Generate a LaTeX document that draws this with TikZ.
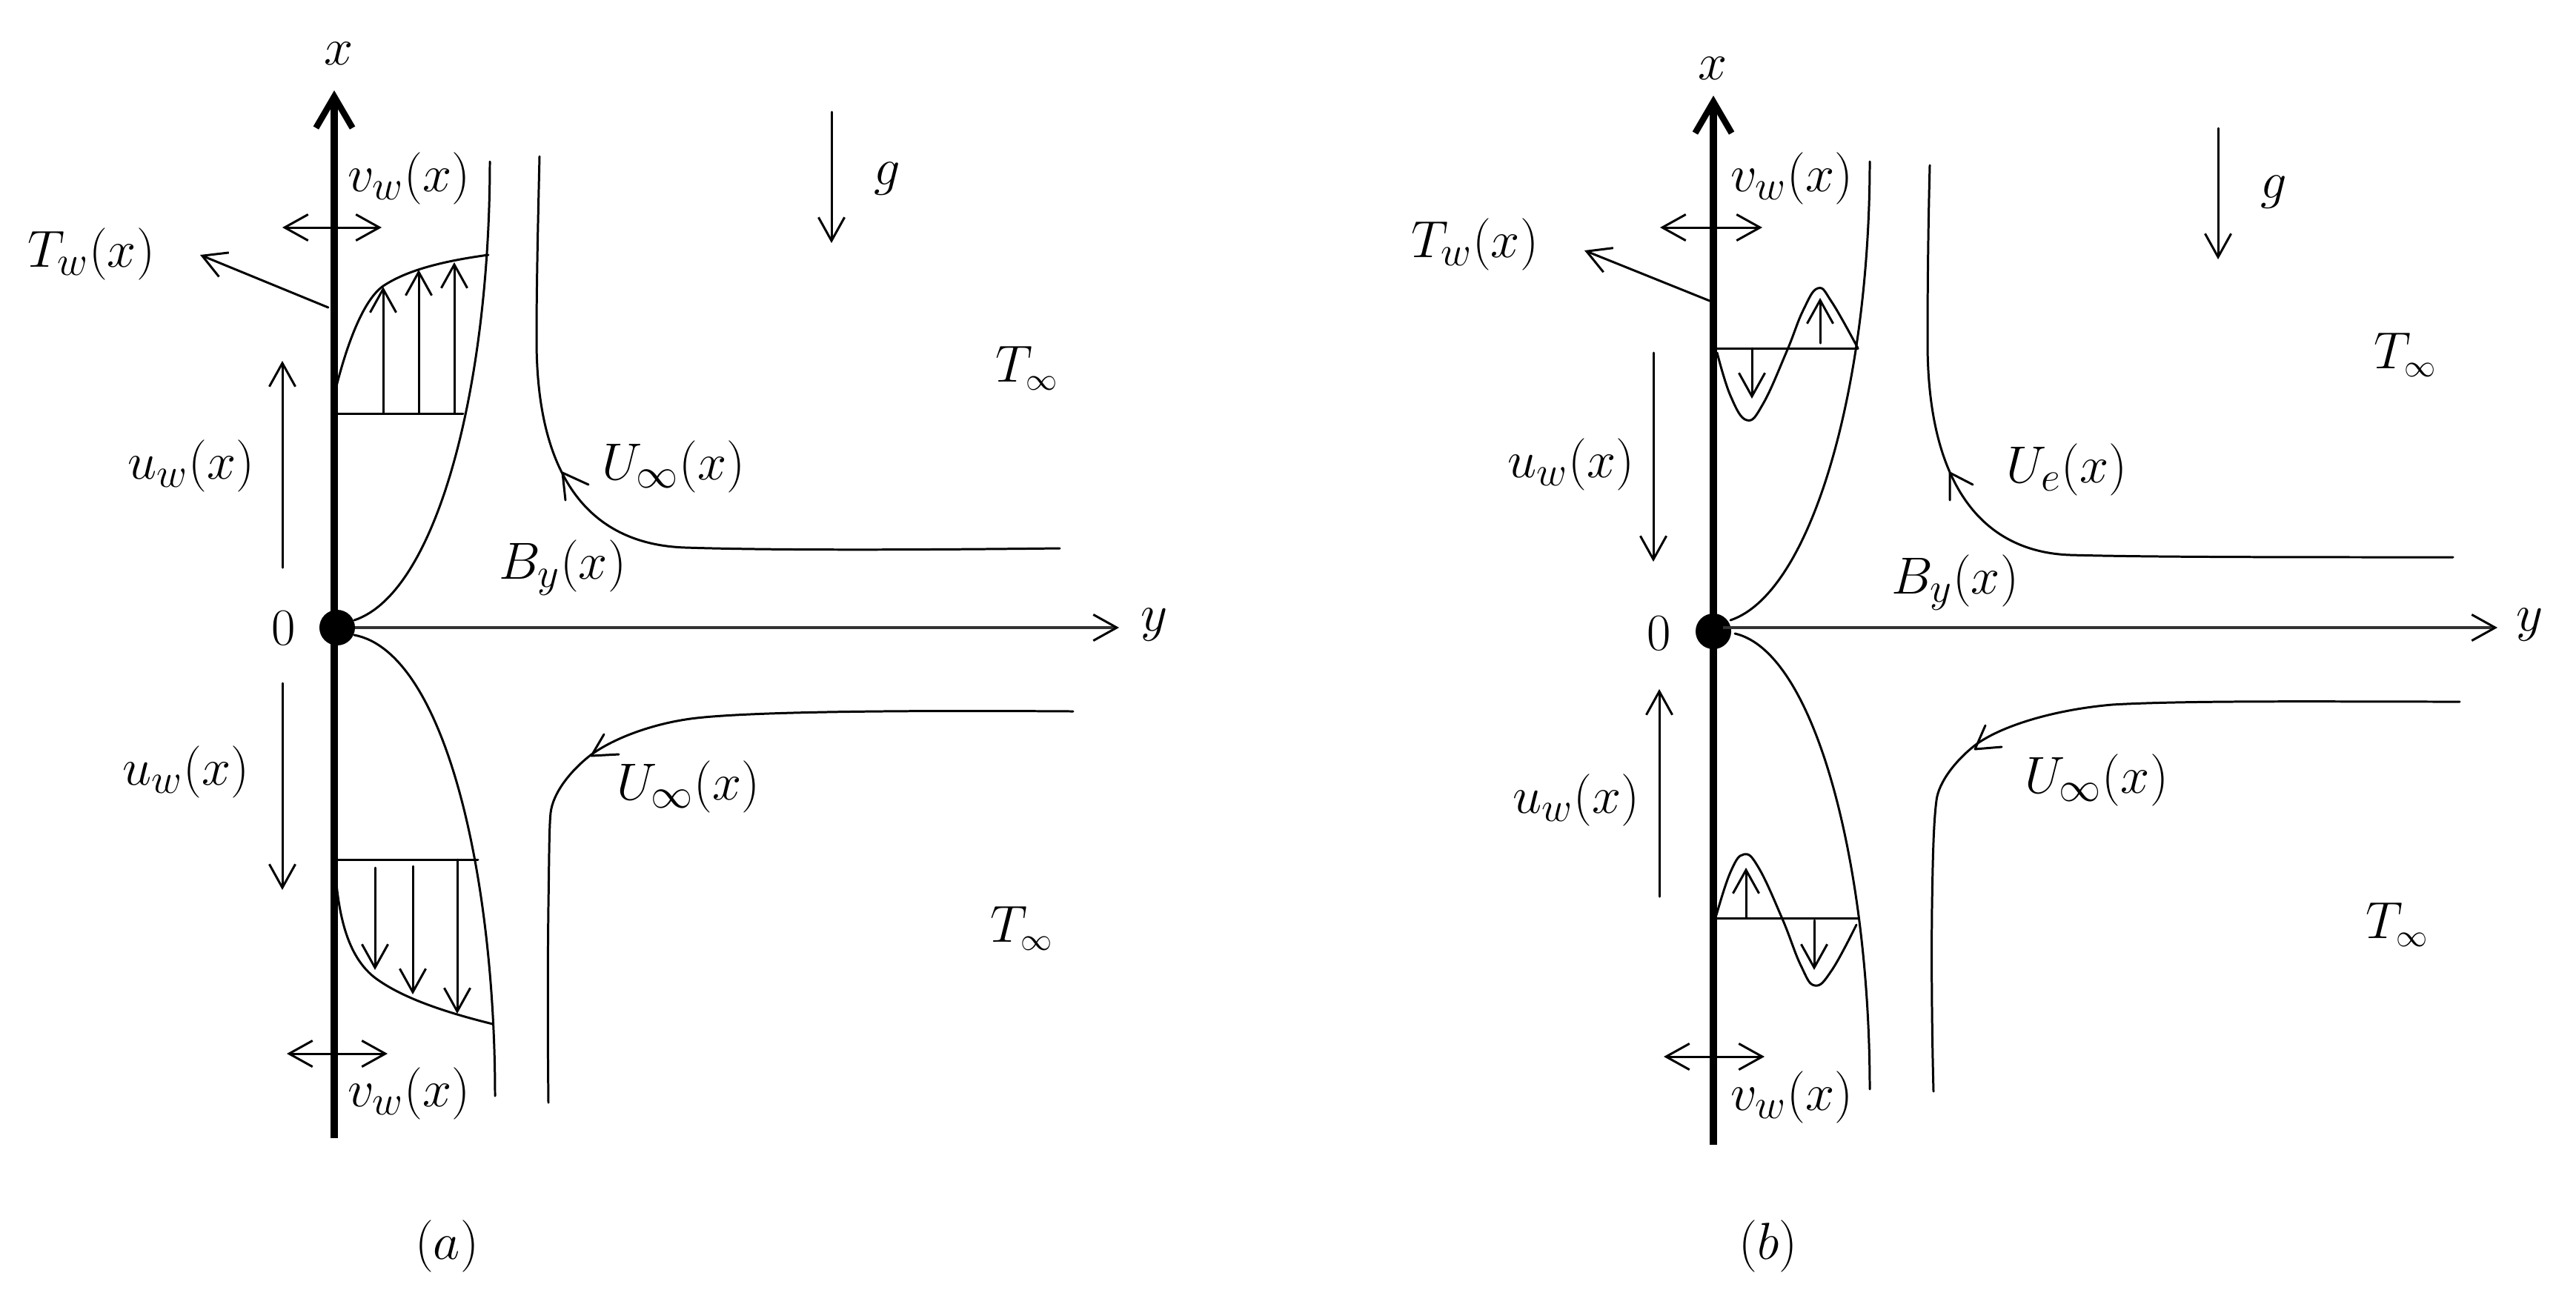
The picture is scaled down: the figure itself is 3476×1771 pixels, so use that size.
\documentclass[tikz,border=0pt]{standalone}
\usepackage{fix-cm}
\DeclareMathSizes{20}{20}{16}{12}
\usetikzlibrary{arrows.meta}
\tikzset{
  x=0.01cm,y=-0.01cm,
  every node/.style={inner sep=0pt,outer sep=0pt,font=\fontsize{20}{22}\selectfont},
  thin line/.style={line width=0.85pt,line join=round,line cap=round},
  axis wall/.style={line width=3.1pt,-{Straight Barb[length=12pt,width=14pt,line width=2.4pt]}},
  axis plain/.style={line width=1.2pt,color=black!80,-{Straight Barb[length=9pt,width=10pt,line width=.85pt,color=black]}},
  arr/.style={thin line,-{Straight Barb[length=9pt,width=10pt]}},
  darr/.style={thin line,{Straight Barb[length=9pt,width=10pt]}-{Straight Barb[length=9pt,width=10pt]}},
  dot/.style={circle,fill=black,minimum size=0.48cm},
}
\begin{document}
\begin{tikzpicture}
\useasboundingbox (0,0) rectangle (3476,1771);
% ---------- panel a ----------
\node[dot] (O1) at (455,847) {};
\coordinate (w1s) at (451,1536); \coordinate (w1e) at (451,122);
\draw[axis wall] (w1s) -- (w1e);
\coordinate (y1e) at (1510,847);
\draw[axis plain] (O1) -- (y1e);
\node (xa) at (457,72) {$x$};
\node (ya) at (1558,843) {$y$};
\node (za) at (383,848) {$0$};
\node (vwa1) at (552,241) {$v_w(x)$};
\node (vwa2) at (552,1476) {$v_w(x)$};
\node (Twa) at (123,343) {$T_w(x)$};
\node (uwa1) at (258,629) {$u_w(x)$};
\node (uwa2) at (251,1042) {$u_w(x)$};
\node (Bya) at (759,766) {$B_y(x)$};
\node (Uia1) at (909,630) {$U_\infty(x)$};
\node (Uia2) at (929,1062) {$U_\infty(x)$};
\node (ga) at (1197,241) {$g$};
\node (Tia1) at (1386,497) {$T_{\scriptscriptstyle\infty}$};
\node (Tia2) at (1379,1253) {$T_{\scriptscriptstyle\infty}$};
\node (capa) at (603,1682) {$(a)$};
% arrows a
\coordinate (a1) at (381,307); \coordinate (a2) at (515,307); \draw[darr] (a1) -- (a2);
\coordinate (a3) at (387,1422); \coordinate (a4) at (523,1422); \draw[darr] (a3) -- (a4);
\coordinate (a5) at (443,415); \coordinate (a6) at (270,344); \draw[arr] (a5) -- (a6);
\coordinate (a7) at (381,766); \coordinate (a8) at (381,487); \draw[arr] (a7) -- (a8);
\coordinate (a9) at (381,922); \coordinate (a10) at (381,1201); \draw[arr] (a9) -- (a10);
\coordinate (a11) at (1122,151); \coordinate (a12) at (1122,328); \draw[arr] (a11) -- (a12);
\coordinate (a13) at (517,558); \coordinate (a14) at (517,387); \draw[arr] (a13) -- (a14);
\coordinate (a15) at (565,558); \coordinate (a16) at (565,364); \draw[arr] (a15) -- (a16);
\coordinate (a17) at (613,558); \coordinate (a18) at (613,354); \draw[arr] (a17) -- (a18);
\coordinate (a19) at (506,1171); \coordinate (a20) at (506,1309); \draw[arr] (a19) -- (a20);
\coordinate (a21) at (557,1169); \coordinate (a22) at (557,1342); \draw[arr] (a21) -- (a22);
\coordinate (a23) at (617,1160); \coordinate (a24) at (617,1368); \draw[arr] (a23) -- (a24);
% baselines a
\coordinate (b1) at (451,558); \coordinate (b2) at (625,558); \draw[thin line] (b1) -- (b2);
\coordinate (b3) at (451,1160); \coordinate (b4) at (645,1160); \draw[thin line] (b3) -- (b4);
% curves a
\draw[thin line] (661,218) .. controls (661,520) and (590,800) .. (478,837);
\draw[thin line] (478,857) .. controls (600,880) and (668,1180) .. (668,1479);
\draw[thin line] (453,525) .. controls (468,465) and (490,405) .. (517,386) .. controls (550,364) and (600,352) .. (659,344);
\draw[thin line] (453,1183) .. controls (458,1240) and (470,1290) .. (504,1318) .. controls (540,1346) and (600,1366) .. (665,1382);
\draw[thin line] (728,211) .. controls (726,300) and (724,380) .. (724,459) .. controls (724,650) and (800,735) .. (925,739) .. controls (1050,743) and (1250,742) .. (1430,740);
\draw[thin line] (740,1488) .. controls (739,1400) and (739,1300) .. (740,1223) .. controls (741,1160) and (741,1115) .. (743,1097) .. controls (746,1070) and (770,1040) .. (797,1019) .. controls (830,995) and (880,978) .. (925,971) .. controls (980,962) and (1150,958) .. (1448,960);
\draw[thin line] (763,675) -- (759,638) -- (794,654);
\draw[thin line] (815,991) -- (798,1020) -- (835,1018);
% ---------- panel b ----------
\node[dot] (O2) at (2312,852) {};
\coordinate (w2s) at (2312,1545); \coordinate (w2e) at (2312,129);
\draw[axis wall] (w2s) -- (w2e);
\coordinate (y2s) at (2325,847); \coordinate (y2e) at (3370,847);
\draw[axis plain] (y2s) -- (y2e);
\node (xb) at (2311,92) {$x$};
\node (yb) at (3414,843) {$y$};
\node (zb) at (2239,855) {$0$};
\node (vwb1) at (2418,241) {$v_w(x)$};
\node (vwb2) at (2418,1481) {$v_w(x)$};
\node (Twb) at (1990,330) {$T_w(x)$};
\node (uwb1) at (2120,627) {$u_w(x)$};
\node (uwb2) at (2127,1080) {$u_w(x)$};
\node (Byb) at (2638,786) {$B_y(x)$};
\node (Ueb) at (2789,634) {$U_e(x)$};
\node (Uib) at (2829,1053) {$U_\infty(x)$};
\node (gb) at (3068,259) {$g$};
\node (Tib1) at (3246,479) {$T_{\scriptscriptstyle\infty}$};
\node (Tib2) at (3235,1248) {$T_{\scriptscriptstyle\infty}$};
\node (capb) at (2386,1682) {$(b)$};
% arrows b
\coordinate (c1) at (2240,307); \coordinate (c2) at (2378,307); \draw[darr] (c1) -- (c2);
\coordinate (c3) at (2245,1426); \coordinate (c4) at (2381,1426); \draw[darr] (c3) -- (c4);
\coordinate (c5) at (2307,406); \coordinate (c6) at (2138,338); \draw[arr] (c5) -- (c6);
\coordinate (c7) at (2231,476); \coordinate (c8) at (2231,758); \draw[arr] (c7) -- (c8);
\coordinate (c9) at (2239,1210); \coordinate (c10) at (2239,930); \draw[arr] (c9) -- (c10);
\coordinate (c11) at (2993,173); \coordinate (c12) at (2993,350); \draw[arr] (c11) -- (c12);
\coordinate (c13) at (2364,470); \coordinate (c14) at (2364,538); \draw[arr] (c13) -- (c14);
\coordinate (c15) at (2456,463); \coordinate (c16) at (2456,402); \draw[arr] (c15) -- (c16);
\coordinate (c17) at (2356,1239); \coordinate (c18) at (2356,1171); \draw[arr] (c17) -- (c18);
\coordinate (c19) at (2448,1242); \coordinate (c20) at (2448,1309); \draw[arr] (c19) -- (c20);
% baselines b
\coordinate (d1) at (2312,470); \coordinate (d2) at (2507,470); \draw[thin line] (d1) -- (d2);
\coordinate (d3) at (2312,1239); \coordinate (d4) at (2507,1239); \draw[thin line] (d3) -- (d4);
% curves b
\draw[thin line] (2523,218) .. controls (2523,520) and (2445,800) .. (2335,837);
\draw[thin line] (2341,855) .. controls (2450,880) and (2523,1170) .. (2523,1470);
\draw[thin line] plot[smooth,tension=0.7] coordinates {(2317,476)(2335,534)(2357,567)(2379,545)(2411,474)(2433,419)(2453,389)(2472,408)(2507,470)};
\draw[thin line] plot[smooth,tension=0.7] coordinates {(2316,1235)(2335,1177)(2353,1153)(2373,1171)(2405,1240)(2430,1303)(2449,1330)(2472,1309)(2505,1248)};
\draw[thin line] (2604,223) .. controls (2602,300) and (2601,380) .. (2601,459) .. controls (2600,650) and (2672,745) .. (2794,749) .. controls (2900,752) and (3100,752) .. (3310,752);
\draw[thin line] (2609,1473) .. controls (2607,1400) and (2606,1300) .. (2607,1223) .. controls (2608,1160) and (2609,1110) .. (2613,1080) .. controls (2616,1055) and (2640,1025) .. (2666,1005) .. controls (2700,980) and (2770,958) .. (2850,951) .. controls (2950,945) and (3150,947) .. (3319,947);
\draw[thin line] (2631,675) -- (2631,638) -- (2662,654);
\draw[thin line] (2679,979) -- (2665,1011) -- (2701,1008);
\end{tikzpicture}
\end{document}
